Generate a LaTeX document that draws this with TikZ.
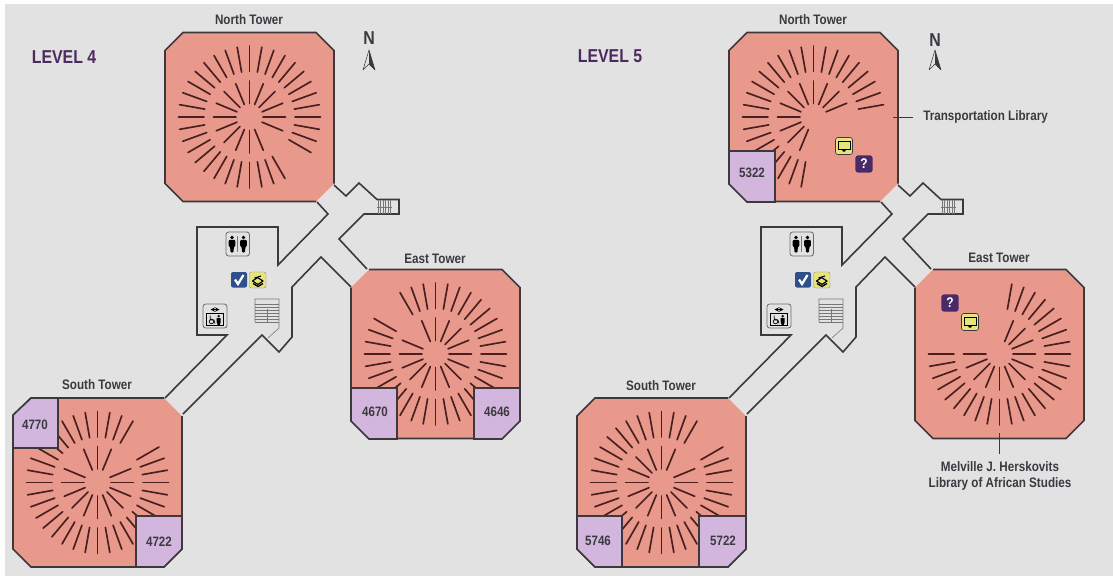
\documentclass[tikz,border=0pt]{standalone}
\usepackage{fontspec}
\setmainfont{Liberation Sans}[FakeStretch=0.85]
\definecolor{bgc}{HTML}{E2E2E3}
\definecolor{pinkc}{HTML}{E8998C}
\definecolor{roomc}{HTML}{D2B6DD}
\definecolor{linec}{HTML}{3C383C}
\definecolor{spokec}{HTML}{4A1F20}
\definecolor{txtc}{HTML}{3A3A40}
\definecolor{levc}{HTML}{4B2A5E}
\definecolor{yelc}{HTML}{E6E47C}
\definecolor{bluec}{HTML}{2F4E8C}
\definecolor{purc}{HTML}{4A2A66}
\definecolor{stairc}{HTML}{77777A}
\tikzset{
  wall/.style={draw=linec,line width=1.2pt,line join=miter},
  towerfill/.style={fill=pinkc},
  roombox/.style={fill=roomc,draw=linec,line width=1.3pt,line join=miter},
  spoke/.style={draw=spokec,line width=1.25pt,line cap=round},
  stairline/.style={draw=stairc,line width=.45pt},
  lab/.style={font=\fontsize{10.3}{12}\selectfont\bfseries,text=txtc,inner sep=0pt},
  roomlab/.style={font=\fontsize{10.2}{12}\selectfont\bfseries,text=txtc,inner sep=0pt},
  levlab/.style={font=\fontsize{14}{16}\selectfont\bfseries,text=levc,inner sep=0pt},
  nlab/.style={font=\fontsize{14}{16}\selectfont\bfseries,text=txtc,inner sep=0pt},
  leader/.style={draw=linec,line width=.5pt},
  iconframe/.style={draw=linec!75,line width=.6pt,rounded corners=2pt},
}
% tower: centre, rotation of door (0 = door at NE), outer spokes, inner spokes
\newcommand{\towerplan}[5]{%
  \begin{scope}[shift={(#1,#2)}]
    \begin{scope}[rotate=#3]
      \fill[towerfill] (66.5,-84.5)--(84.5,-66.5)--(84.5,66.5)--(66.5,84.5)--(-66.5,84.5)--(-84.5,66.5)--(-84.5,-66.5)--(-66.5,-84.5)--cycle;
      \draw[wall] (84.5,-66.5)--(84.5,66.5)--(66.5,84.5)--(-66.5,84.5)--(-84.5,66.5)--(-84.5,-66.5)--(-66.5,-84.5)--(66.5,-84.5);
    \end{scope}
    \foreach \a in {#4} \draw[spoke] ({-\a}:45.5)--({-\a}:71);
    \foreach \a in {#5} \draw[spoke] ({-\a}:13.5)--({-\a}:36);
  \end{scope}}
% corridor walls, stairs and service icons of one level
\newcommand{\corridor}{%
  \draw[wall] (334,185)--(346,196)--(359,183)--(377,199.5)--(399,199.5)--(399,214)--(364,214)--(339,239)--(367,269);
  \draw[wall] (351,287)--(321,257)--(292,287)--(292,337)--(279,352)--(262,335)--(183,414);
  \draw[wall] (317,202)--(328,214)--(278,265)--(278,227)--(197,227)--(197,335)--(227,335)--(165,398);
  % upper stairs
  \draw[stairline] (377,207)--(392,207);
  \foreach \x in {378,380.5,...,392} \draw[stairline] (\x,200)--(\x,213.5);
  % main stairs
  \draw[stairline] (255,322)--(255,299)--(279,299)--(279,328)--(268,338);
  \foreach \y in {304,307,...,322} \draw[stairline] (255,\y)--(279,\y);
  \draw[stairline] (267,309)--(267,322);
  % restroom icon
  \draw[iconframe] (226,232) rectangle (249.5,256);
  \foreach \px in {232,243.5}{
    \fill[black] (\px,237.5) circle (1.9);
    \fill[black,rounded corners=.8pt] (\px-3.2,239.8)--(\px+3.2,239.8)--(\px+3.5,246.5)--(\px+1.9,246.5)--(\px+1.5,252.5)--(\px-1.5,252.5)--(\px-1.9,246.5)--(\px-3.5,246.5)--cycle;
  }
  \draw[stairline] (237.7,236)--(237.7,252);
  % check icon
  \fill[bluec,rounded corners=1.5pt] (231,272) rectangle (247,287.5);
  \draw[white,line width=1.7pt] (235,279.5)--(238,284)--(243.5,275);
  % scanner icon
  \fill[yelc,draw=linec!60,line width=.3pt,rounded corners=1.5pt] (249.5,272) rectangle (266,288);
  \draw[black,line width=.9pt,line join=round] (252.5,281)--(258,284.5)--(263,281)--(257.5,277.5)--cycle;
  \draw[black,line width=.8pt] (254.5,278)--(261,276);
  \draw[black,line width=1pt] (253,283.5)--(258,286.5)--(263,283.5);
  % elevator icon
  \draw[iconframe] (203,304) rectangle (227,328);
  \draw[draw=black,line width=.7pt] (206.5,313) rectangle (223.5,325.5);
  \draw[black,line width=.5pt,<->,>=stealth] (210.5,309.5)--(219.5,309.5);
  \fill[black] (218.7,316.2) circle (1.3);
  \fill[black] (216.7,318)--(220.7,318)--(220.7,322)--(219.8,324.8)--(217.6,324.8)--(216.7,322)--cycle;
  \draw[black,line width=.5pt] (211.5,321.5) circle (2.3);
  \draw[black,line width=.5pt] (210,315.5)--(210.5,320)--(214,320)--(215,323.5);
}
\newcommand{\northarrow}[1]{%
  \draw[draw=linec,line width=.4pt,fill=bgc,line join=round] (#1-6,70)--(#1,50)--(#1+6,70)--(#1,64)--cycle;
  \fill[linec] (#1,50)--(#1+6,70)--(#1,64)--cycle;
}
\newcommand{\monitoricon}[2]{%
  \fill[yelc,draw=linec,line width=.5pt,rounded corners=1.8pt] (#1-8.5,#2-8.5) rectangle (#1+8.5,#2+8.5);
  \draw[black,line width=.7pt] (#1-6,#2-5) rectangle (#1+6,#2+3);
  \fill[black] (#1-2.5,#2+3)--(#1+2.5,#2+3)--(#1+1,#2+5.5)--(#1-1,#2+5.5)--cycle;
}
\newcommand{\helpicon}[3]{%
  \node[fill=purc,rounded corners=1.8pt,minimum size=12.8pt,inner sep=0pt,text=white,font=\fontsize{10.5}{12}\selectfont\bfseries] (#3) at (#1,#2) {?};
}
\begin{document}
\begin{tikzpicture}[x=0.75pt,y=-0.75pt]
\useasboundingbox (0,0) rectangle (1113,576);
\fill[white] (0,0) rectangle (1113,576);
\fill[bgc] (5,4) rectangle (1113,576);
% ---------- LEVEL 4
\corridor
\towerplan{249.5}{117}{-90}{-30,-20,...,300}{-22.5,0,...,292.5}
\towerplan{97.5}{482.5}{0}{60,70,...,390}{67.5,90,112.5,157.5,180,...,382.5}
\towerplan{435.5}{354}{90}{150,160,...,480}{157.5,180,...,472.5}
\draw[roombox] (13,415)--(31,398)--(58,398)--(58,448)--(13,448)--cycle;
\draw[roombox] (136,516)--(182,516)--(182,549)--(164,567)--(136,567)--cycle;
\draw[roombox] (351,388)--(397,388)--(397,439)--(369,439)--(351,421)--cycle;
\draw[roombox] (474,388)--(520,388)--(520,421)--(502,439)--(474,439)--cycle;
\node[levlab] (lev4) at (64,57) {LEVEL 4};
\node[nlab] (n4) at (369,38) {N};
\northarrow{369}
\node[lab] (nt4) at (249,20) {North Tower};
\node[lab] (st4) at (97,385) {South Tower};
\node[lab] (et4) at (435,259) {East Tower};
\node[roomlab] (r4770) at (35,425) {4770};
\node[roomlab] (r4722) at (159,542) {4722};
\node[roomlab] (r4670) at (375,412) {4670};
\node[roomlab] (r4646) at (497,412) {4646};
% ---------- LEVEL 5
\begin{scope}[shift={(564,0)}]
\corridor
\end{scope}
\towerplan{813.5}{117}{-90}{10,20,...,260}{22.5,45,...,247.5}
\towerplan{661.5}{482.5}{0}{60,70,...,390}{67.5,90,...,382.5}
\towerplan{999.5}{354}{90}{-180,-170,...,80}{-180,-157.5,...,67.5}
\draw[roombox] (729,151)--(775,151)--(775,202)--(747,202)--(729,184)--cycle;
\draw[roombox] (577,516)--(622,516)--(622,567)--(595,567)--(577,549)--cycle;
\draw[roombox] (699,516)--(746,516)--(746,549)--(728,567)--(699,567)--cycle;
\node[levlab] (lev5) at (610,56) {LEVEL 5};
\node[nlab] (n5) at (935,40) {N};
\northarrow{935}
\node[lab] (nt5) at (813,20) {North Tower};
\node[lab] (st5) at (661,386) {South Tower};
\node[lab] (et5) at (999,258) {East Tower};
\node[roomlab] (r5322) at (752,173) {5322};
\node[roomlab] (r5746) at (598,541) {5746};
\node[roomlab] (r5722) at (723,541) {5722};
\monitoricon{844}{146}
\helpicon{864}{164}{q1}
\helpicon{950}{303}{q2}
\monitoricon{970}{322}
\node[lab,anchor=west] (tl) at (923,117) {Transportation Library};
\coordinate (tlp) at (893,117);
\coordinate (tlq) at (913,117);
\draw[leader] (tlp)--(tlq);
\node[lab,align=center] (hl) at (1000,476) {Melville J. Herskovits\\Library of African Studies};
\coordinate (hlp) at (999.5,433);
\coordinate (hlq) at (999.5,454);
\draw[leader] (hlp)--(hlq);
\end{tikzpicture}
\end{document}
